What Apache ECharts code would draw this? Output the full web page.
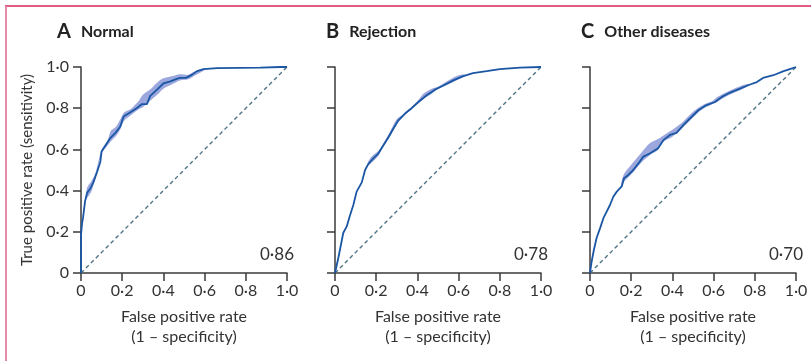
<!DOCTYPE html>
<html>
<head>
<meta charset="utf-8">
<script src="https://cdn.jsdelivr.net/npm/echarts@6/dist/echarts.min.js"></script>
<style>
  html, body { margin: 0; padding: 0; background: #fff; }
  #chart { width: 811px; height: 361px; }
</style>
</head>
<body>
<div id="chart"></div>
<script>
// ROC curves, values: [fpr, tpr]
const normalCurve = [
  [0, 0], [0, 0.185], [0.005, 0.24], [0.01, 0.27], [0.02, 0.35], [0.03, 0.39], [0.045, 0.41],
  [0.06, 0.44], [0.078, 0.49], [0.094, 0.54], [0.10, 0.59], [0.11, 0.605],
  [0.126, 0.63], [0.142, 0.655], [0.167, 0.68], [0.19, 0.71], [0.207, 0.76],
  [0.24, 0.78], [0.27, 0.80], [0.296, 0.82], [0.32, 0.82], [0.336, 0.86],
  [0.369, 0.89], [0.40, 0.92], [0.434, 0.93], [0.458, 0.94], [0.48, 0.947],
  [0.51, 0.947], [0.54, 0.963], [0.563, 0.98], [0.595, 0.99], [0.66, 0.995],
  [0.87, 0.997], [0.97, 1.0], [1, 1]
];
const rejectionCurve = [
  [0, 0], [0.016, 0.073], [0.032, 0.153], [0.04, 0.194], [0.057, 0.226],
  [0.073, 0.28], [0.089, 0.33], [0.105, 0.395], [0.13, 0.44], [0.146, 0.50],
  [0.162, 0.53], [0.186, 0.556], [0.21, 0.58], [0.235, 0.62], [0.26, 0.66],
  [0.283, 0.70], [0.307, 0.74], [0.34, 0.774], [0.372, 0.80], [0.405, 0.83],
  [0.445, 0.863], [0.485, 0.89], [0.526, 0.91], [0.574, 0.935], [0.623, 0.956],
  [0.67, 0.97], [0.736, 0.98], [0.80, 0.99], [0.898, 0.997], [1, 1]
];
const otherCurve = [
  [0, 0], [0.008, 0.056], [0.019, 0.113], [0.032, 0.17], [0.049, 0.218],
  [0.065, 0.266], [0.081, 0.298], [0.097, 0.33], [0.113, 0.37], [0.13, 0.395],
  [0.154, 0.42], [0.165, 0.46], [0.186, 0.476], [0.21, 0.50], [0.235, 0.532],
  [0.259, 0.565], [0.29, 0.58], [0.33, 0.605], [0.356, 0.645], [0.388, 0.67],
  [0.42, 0.68], [0.453, 0.718], [0.485, 0.75], [0.526, 0.79], [0.566, 0.815],
  [0.607, 0.83], [0.64, 0.855], [0.68, 0.876], [0.728, 0.895], [0.777, 0.915],
  [0.81, 0.927], [0.84, 0.947], [0.89, 0.96], [0.94, 0.98], [0.97, 0.99], [1, 1]
];

// confidence bands: [fpr, lower, upper]
const normalBand = [
  [0.02, 0.345, 0.355], [0.03, 0.365, 0.415], [0.05, 0.395, 0.445], [0.07, 0.46, 0.485],
  [0.10, 0.58, 0.60], [0.13, 0.62, 0.645], [0.145, 0.64, 0.69], [0.17, 0.665, 0.71],
  [0.19, 0.695, 0.745], [0.21, 0.74, 0.78], [0.24, 0.765, 0.795], [0.28, 0.795, 0.835],
  [0.30, 0.805, 0.865], [0.34, 0.84, 0.895], [0.37, 0.865, 0.925], [0.40, 0.895, 0.945],
  [0.44, 0.915, 0.955], [0.48, 0.935, 0.965], [0.52, 0.94, 0.962], [0.55, 0.958, 0.978],
  [0.60, 0.986, 0.993]
];
const rejectionBand = [
  [0.16, 0.522, 0.538], [0.18, 0.538, 0.568], [0.21, 0.568, 0.592], [0.23, 0.606, 0.62],
  [0.27, 0.668, 0.692], [0.30, 0.722, 0.748], [0.33, 0.758, 0.77], [0.40, 0.82, 0.834],
  [0.43, 0.845, 0.871], [0.47, 0.87, 0.895], [0.50, 0.893, 0.904], [0.56, 0.92, 0.94],
  [0.60, 0.941, 0.96], [0.63, 0.955, 0.963]
];
const otherBand = [
  [0.15, 0.413, 0.427], [0.165, 0.443, 0.48], [0.20, 0.478, 0.525], [0.25, 0.537, 0.585],
  [0.29, 0.572, 0.63], [0.33, 0.598, 0.65], [0.36, 0.64, 0.67], [0.40, 0.662, 0.695],
  [0.45, 0.705, 0.733], [0.50, 0.755, 0.783], [0.55, 0.798, 0.817], [0.59, 0.818, 0.832],
  [0.62, 0.833, 0.855], [0.68, 0.866, 0.886], [0.74, 0.893, 0.912], [0.77, 0.911, 0.918]
];

const panelLetters = ['A', 'B', 'C'];
const panelNames = ['Normal', 'Rejection', 'Other diseases'];
const aucValues = ['0·86', '0·78', '0·70'];
const tickValues = [0, 0.2, 0.4, 0.6, 0.8, 1.0];
const tickLabels = ['0', '0·2', '0·4', '0·6', '0·8', '1·0'];

const curves = [normalCurve, rejectionCurve, otherCurve];
const bands = [normalBand, rejectionBand, otherBand];

const FONT = 'Lato, "Liberation Sans", sans-serif';
const TEXT = '#333';
const AXIS = '#3a3a3a';
const lefts = [81, 335, 590];
const titleLefts = [52, 321, 576];

function tickLabel(v) {
  const i = tickValues.findIndex((t) => Math.abs(t - v) < 1e-6);
  return i >= 0 ? tickLabels[i] : '';
}

function axisCommon(i, showLabels) {
  return {
    type: 'value',
    gridIndex: i,
    min: 0,
    max: 1,
    interval: 0.2,
    splitLine: { show: false },
    axisLine: { show: true, lineStyle: { color: AXIS, width: 1.5 } },
    axisTick: { show: true, length: 8, lineStyle: { color: AXIS, width: 1.5 } },
    axisLabel: {
      show: showLabels,
      formatter: tickLabel,
      color: TEXT,
      fontFamily: FONT,
      fontSize: 16
    }
  };
}

const grid = lefts.map((l) => ({ left: l, top: 67, width: 206, height: 206 }));

const xAxis = lefts.map((l, i) => {
  const a = axisCommon(i, true);
  a.axisLabel.margin = 10;
  a.name = 'False positive rate\n(1 – specificity)';
  a.nameLocation = 'middle';
  a.nameGap = 34;
  a.nameTextStyle = { color: TEXT, fontFamily: FONT, fontSize: 16, lineHeight: 20 };
  return a;
});

const yAxis = lefts.map((l, i) => {
  const a = axisCommon(i, i === 0);
  a.axisLabel.margin = 12;
  if (i === 0) {
    a.name = 'True positive rate (sensitivity)';
    a.nameLocation = 'middle';
    a.nameGap = 46;
    a.nameTextStyle = { color: TEXT, fontFamily: FONT, fontSize: 15 };
  }
  return a;
});

const series = [];
curves.forEach((curve, i) => {
  const band = bands[i];
  series.push({
    type: 'custom',
    xAxisIndex: i,
    yAxisIndex: i,
    data: [[0, 0]],
    silent: true,
    z: 1,
    renderItem: (params, api) => {
      const upper = band.map((p) => api.coord([p[0], p[2]]));
      const lower = band.map((p) => api.coord([p[0], p[1]])).reverse();
      return {
        type: 'polygon',
        shape: { points: upper.concat(lower), smooth: 0.3 },
        style: { fill: 'rgba(118, 134, 208, 0.72)' }
      };
    }
  });
  series.push({
    type: 'line',
    xAxisIndex: i,
    yAxisIndex: i,
    data: [[0, 0], [1, 1]],
    showSymbol: false,
    silent: true,
    z: 2,
    lineStyle: { color: '#4f7384', width: 1.4, type: [4, 3] }
  });
  series.push({
    type: 'line',
    xAxisIndex: i,
    yAxisIndex: i,
    data: curve,
    showSymbol: false,
    silent: true,
    z: 3,
    lineStyle: { color: '#1a56a3', width: 1.8 }
  });
});

const title = panelLetters.map((letter, i) => ({
  left: titleLefts[i],
  top: 17,
  text: '{l|' + letter + '}  {t|' + panelNames[i] + '}',
  textStyle: {
    rich: {
      l: { fontFamily: FONT, fontSize: 20, fontWeight: 'bold', color: '#222' },
      t: { fontFamily: FONT, fontSize: 16, fontWeight: 'bold', color: '#222' }
    }
  }
}));

const aucText = aucValues.map((v, i) => ({
  type: 'text',
  right: 811 - (lefts[i] + 213),
  top: 246,
  style: { text: v, fill: TEXT, font: '17px ' + FONT }
}));

const chart = echarts.init(document.getElementById('chart'), null, { renderer: 'canvas' });
chart.setOption({
  animation: false,
  backgroundColor: '#fff',
  title,
  grid,
  xAxis,
  yAxis,
  series,
  graphic: [
    { type: 'line', shape: { x1: 5, y1: 6, x2: 811, y2: 6 }, style: { stroke: '#d82456', lineWidth: 1.5 } },
    { type: 'line', shape: { x1: 6, y1: 6, x2: 6, y2: 361 }, style: { stroke: '#e58aa8', lineWidth: 2 } }
  ].concat(aucText)
});
</script>
</body>
</html>
